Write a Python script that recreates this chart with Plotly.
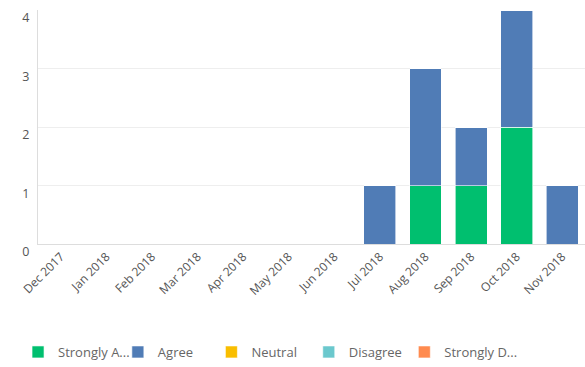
import plotly.graph_objects as go

months = ["Dec 2017", "Jan 2018", "Feb 2018", "Mar 2018", "Apr 2018", "May 2018",
          "Jun 2018", "Jul 2018", "Aug 2018", "Sep 2018", "Oct 2018", "Nov 2018"]
strongly_agree = [0, 0, 0, 0, 0, 0, 0, 0, 1, 1, 2, 0]
agree = [0, 0, 0, 0, 0, 0, 0, 1, 2, 1, 2, 1]
neutral = [0] * 12
disagree = [0] * 12
strongly_disagree = [0] * 12

series = [
    ("Strongly A...", strongly_agree, "#00BF6F"),
    ("Agree", agree, "#507CB6"),
    ("Neutral", neutral, "#F9BE00"),
    ("Disagree", disagree, "#6BC8CD"),
    ("Strongly D...", strongly_disagree, "#FF8B4F"),
]
legend_x = [-0.0365, 0.146, 0.317, 0.495, 0.6697]

fig = go.Figure()
legends = {}
for i, (name, vals, color) in enumerate(series):
    lname = "legend" if i == 0 else f"legend{i + 1}"
    fig.add_trace(go.Bar(x=months, y=vals, name=name, legend=lname,
                         marker=dict(color=color, line=dict(width=0.6, color="#ffffff"))))
    legends[lname] = dict(orientation="h", x=legend_x[i], xanchor="left",
                          y=-0.462, yanchor="middle", bgcolor="rgba(0,0,0,0)",
                          font=dict(size=13, color="#666666"), itemclick=False)

fig.update_layout(
    width=585, height=367,
    margin=dict(l=38, r=0, t=10, b=121),
    barmode="stack", bargap=0.3,
    paper_bgcolor="white", plot_bgcolor="white",
    font=dict(family="Open Sans", size=12, color="#666666"),
    xaxis=dict(tickangle=-45, showline=True, linecolor="#dddddd", linewidth=1,
               showgrid=False, ticks="", tickfont=dict(size=12, color="#555555")),
    yaxis=dict(range=[0, 4], dtick=1, showline=True, linecolor="#dddddd",
               gridcolor="#eeeeee", zeroline=False, ticks="",
               ticklabelshift=8, ticklabelstandoff=5,
               tickfont=dict(size=12.5, color="#555555")),
    showlegend=True,
    **legends,
)

fig.write_html("out.html")
